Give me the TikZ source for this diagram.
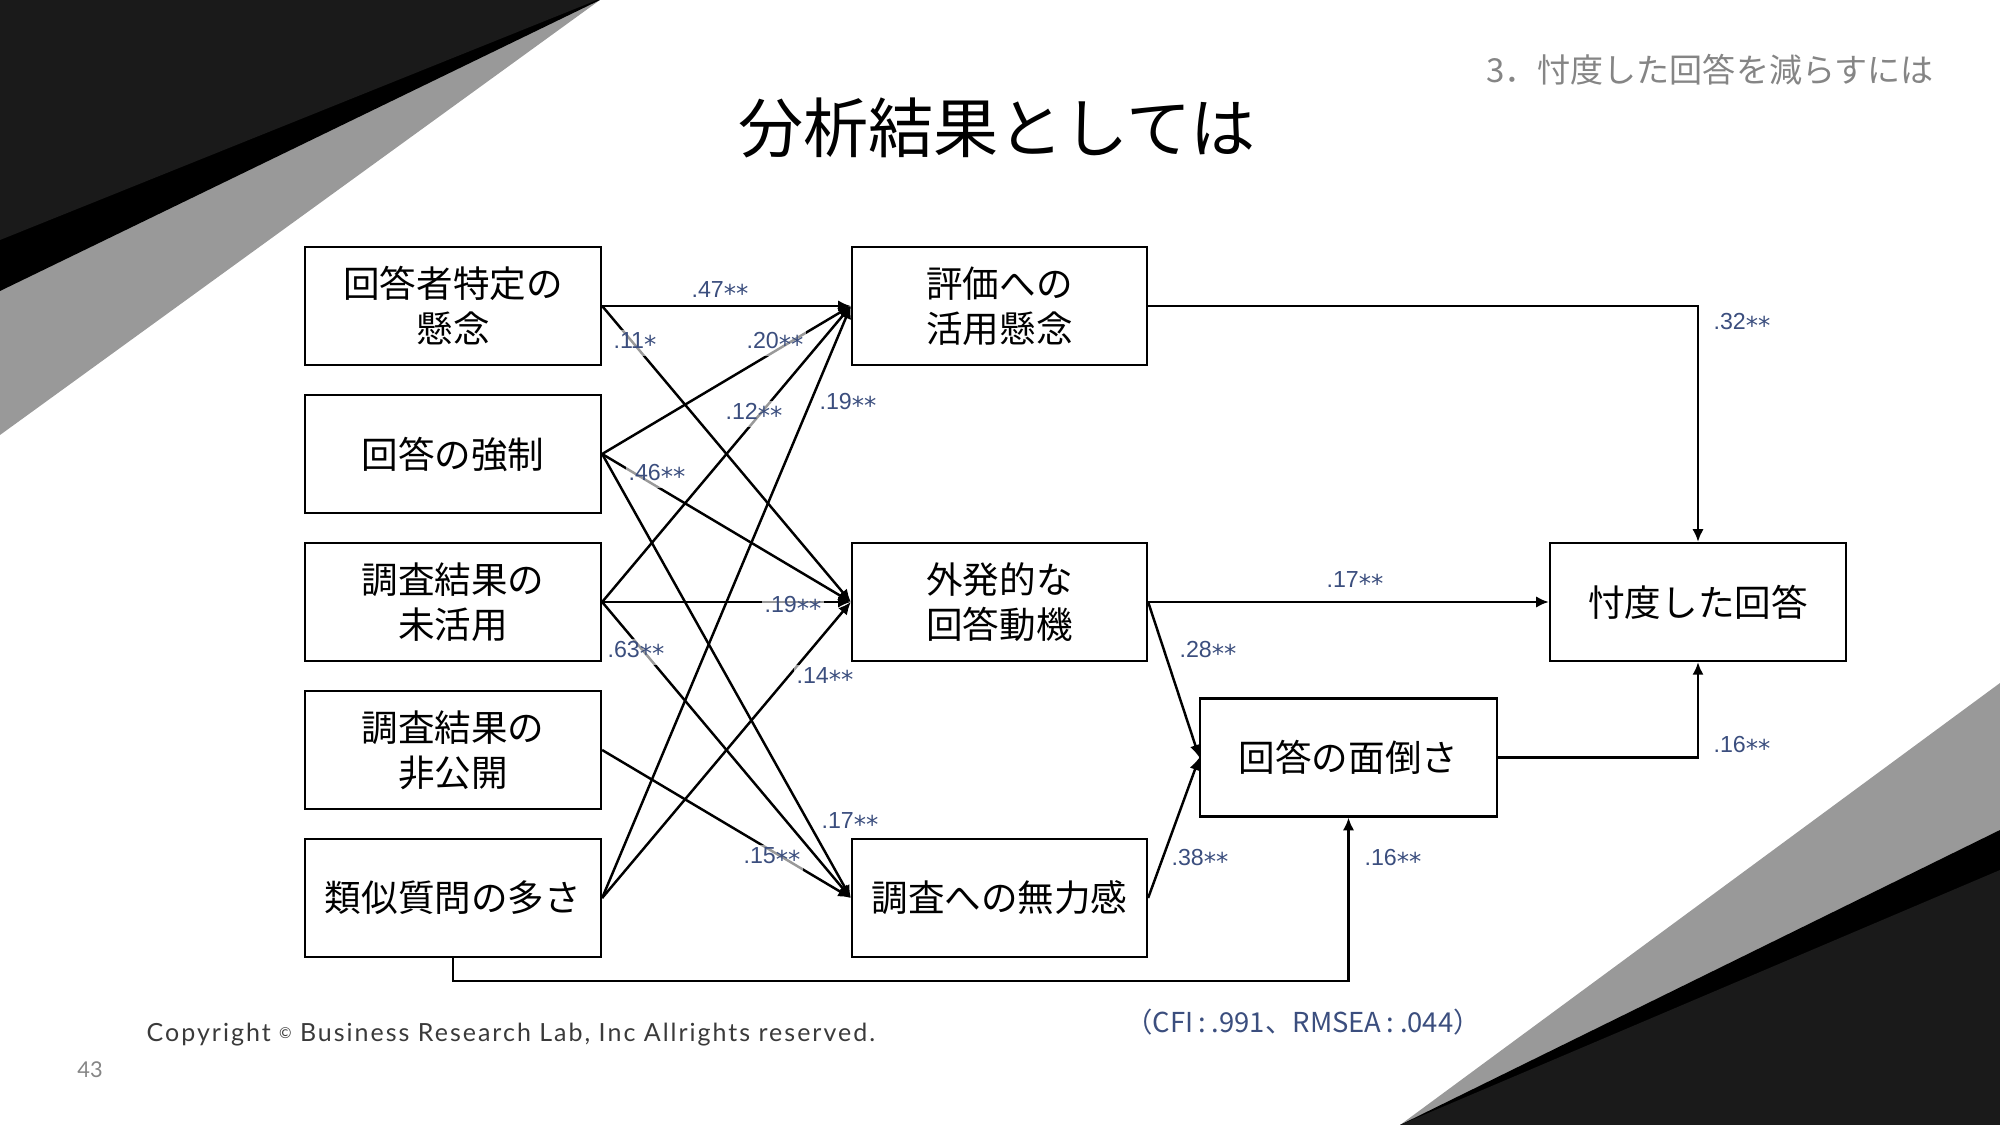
\documentclass[tikz,border=0pt]{standalone}
\usepackage{fontspec}
\usepackage{graphicx}
\usetikzlibrary{arrows.meta,calc}
\newfontfamily\cjk{Noto Sans CJK JP}
\newfontfamily\labelfont{Liberation Sans}
\newfontfamily\starfont{DejaVu Sans}
\newfontfamily\copyfont[LetterSpace=8]{Lato}
\newfontfamily\pagefont{Lato}
\newcommand\coefstar{\raisebox{-0.22em}{\starfont\fontsize{7}{7}\selectfont *}}
\newcommand\cfv[2]{#1\ifnum#2>0 \coefstar\fi\ifnum#2>1 \coefstar\fi}
\definecolor{labblue}{RGB}{59,78,126}
\definecolor{darkbg}{HTML}{1A1A1A}
\definecolor{greybg}{HTML}{999999}
\definecolor{subgrey}{HTML}{858585}
\definecolor{copygrey}{HTML}{3A3A3A}
\tikzset{
  varbox/.style={draw=black, line width=0.6pt, minimum width=2.96cm, minimum height=1.18cm,
    align=center, inner sep=0pt, font=\cjk\fontsize{10.4}{12.8}\selectfont},
  arr/.style={line width=0.7pt, -{Latex[length=3.6pt,width=3.2pt]}},
  coef/.style={font=\labelfont\fontsize{6.6}{7}\selectfont, text=labblue, fill=white,
    fill opacity=0.6, text opacity=1, inner sep=0.6pt},
}
\begin{document}
\begin{tikzpicture}[x=0.01cm,y=-0.01cm]
\useasboundingbox (0,0) rectangle (2000,1125);
% background decorations
\fill[greybg] (0,0) -- (600,0) -- (0,435) -- cycle;
\fill[black] (0,0) -- (600,0) -- (0,291) -- cycle;
\fill[darkbg] (0,0) -- (597,0) -- (0,240) -- cycle;
\fill[greybg] (1400,1125) -- (2000,683) -- (2000,1125) -- cycle;
\fill[black] (1400,1125) -- (2000,830) -- (2000,1125) -- cycle;
\fill[darkbg] (1400,1125) -- (2000,870) -- (2000,1125) -- cycle;
% title and header
\node[font=\cjk\fontsize{18.5}{20}\selectfont] (title) at (997,128) {分析結果としては};
\node[font=\cjk\fontsize{9.4}{10}\selectfont, text=subgrey] (sub) at (1710,70) {3．忖度した回答を減らすには};
% boxes
\node[varbox] (L1) at (453,306) {回答者特定の\\懸念};
\node[varbox] (L2) at (453,454) {回答の強制};
\node[varbox] (L3) at (453,602) {調査結果の\\未活用};
\node[varbox] (L4) at (453,750) {調査結果の\\非公開};
\node[varbox] (L5) at (453,898) {類似質問の多さ};
\node[varbox, minimum width=2.95cm] (M1) at (999.5,306) {評価への\\活用懸念};
\node[varbox, minimum width=2.95cm] (M2) at (999.5,602) {外発的な\\回答動機};
\node[varbox, minimum width=2.95cm] (M3) at (999.5,898) {調査への無力感};
\node[varbox] (D) at (1348.5,757.5) {回答の面倒さ};
\node[varbox] (S) at (1698,602) {忖度した回答};
% arrows left to middle
\draw[arr] (L1.east) -- (M1.west);
\draw[arr] (L1.east) -- (M2.west);
\draw[arr] (L2.east) -- (M1.west);
\draw[arr] (L2.east) -- (M2.west);
\draw[arr] (L2.east) -- (M3.west);
\draw[arr] (L3.east) -- (M1.west);
\draw[arr] (L3.east) -- (M2.west);
\draw[arr] (L3.east) -- (M3.west);
\draw[arr] (L4.east) -- (M3.west);
\draw[arr] (L5.east) -- (M1.west);
\draw[arr] (L5.east) -- (M2.west);
% arrows middle to right
\draw[arr] (M1.east) -| (S.north);
\draw[arr] (M2.east) -- (S.west);
\draw[arr] (M2.east) -- (D.west);
\draw[arr] (M3.east) -- (D.west);
\draw[arr] (D.east) -| (S.south);
\coordinate (bend) at (453,981);
\draw[arr] (L5.south) -- (bend) -| (D.south);
% coefficients
\node[coef] (c1) at (720,292) {\cfv{.47}{2}};
\node[coef] (c2) at (635,343) {\cfv{.11}{1}};
\node[coef] (c3) at (775,343) {\cfv{.20}{2}};
\node[coef] (c4) at (754,414) {\cfv{.12}{2}};
\node[coef] (c5) at (848,404) {\cfv{.19}{2}};
\node[coef] (c6) at (657,475) {\cfv{.46}{2}};
\node[coef] (c7) at (793,607) {\cfv{.19}{2}};
\node[coef] (c8) at (636,652) {\cfv{.63}{2}};
\node[coef] (c9) at (825,678) {\cfv{.14}{2}};
\node[coef] (c10) at (850,823) {\cfv{.17}{2}};
\node[coef] (c11) at (772,858) {\cfv{.15}{2}};
\node[coef] (c12) at (1742,324) {\cfv{.32}{2}};
\node[coef] (c13) at (1355,582) {\cfv{.17}{2}};
\node[coef] (c14) at (1208,652) {\cfv{.28}{2}};
\node[coef] (c15) at (1742,747) {\cfv{.16}{2}};
\node[coef] (c16) at (1200,860) {\cfv{.38}{2}};
\node[coef] (c17) at (1393,860) {\cfv{.16}{2}};
\node[font=\cjk\fontsize{7.8}{9}\selectfont, text=labblue] (fit) at (1303,1022) {（CFI\hspace{0.2em}:\hspace{0.2em}.991、RMSEA\hspace{0.2em}:\hspace{0.2em}.044）};
% footer
\node[anchor=west, inner sep=0pt, text=copygrey] (copy) at (146,1035)
  {\resizebox{7.28cm}{!}{\copyfont\fontsize{6}{7}\selectfont Copyright {\fontsize{3.6}{4}\selectfont\raisebox{0.5ex}{©}} Business Research Lab, Inc Allrights reserved.}};
\node[font=\pagefont\fontsize{6.2}{7}\selectfont, text=subgrey] (page) at (90,1070) {43};
\end{tikzpicture}
\end{document}
